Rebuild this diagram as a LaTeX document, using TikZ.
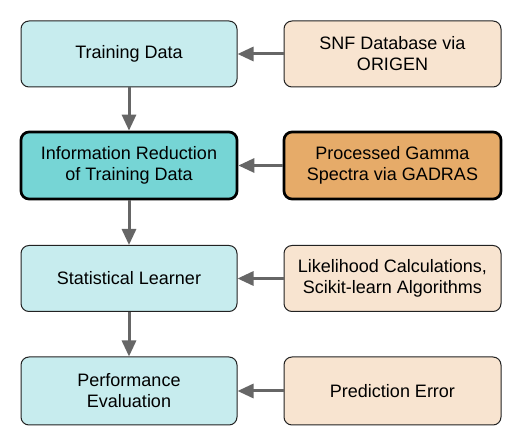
\documentclass[tikz,border=0pt]{standalone}
\usepackage{fontspec}
\setmainfont{Liberation Sans}
\usetikzlibrary{arrows.meta}
\definecolor{lcyan}{HTML}{C7ECEE}
\definecolor{dcyan}{HTML}{76D5D5}
\definecolor{lpeach}{HTML}{F8E4D0}
\definecolor{dorange}{HTML}{E6AB69}
\definecolor{arrowgray}{HTML}{666666}
\definecolor{edgegray}{HTML}{222222}
\begin{document}
\begin{tikzpicture}[x=1pt,y=-1pt,
  box/.style={draw=edgegray, line width=1pt, rounded corners=8pt, align=center,
    font=\fontsize{18pt}{21pt}\selectfont, inner sep=0pt},
  lbox/.style={box, minimum width=216pt, minimum height=66pt},
  rbox/.style={box, minimum width=217pt, minimum height=66pt},
  strong/.style={draw=black, line width=2.7pt},
  conn/.style={draw=arrowgray, line width=3pt, -{Triangle[width=14pt,length=16pt]}}]
\useasboundingbox (0,0) rectangle (512,446);
\node[lbox, fill=lcyan] (td) at (129,54) {Training Data};
\node[lbox, fill=dcyan, strong, minimum height=67pt] (ir) at (129,165.5) {Information Reduction\\of Training Data};
\node[lbox, fill=lcyan] (sl) at (129,278.5) {Statistical Learner};
\node[lbox, fill=lcyan, minimum height=68pt] (pe) at (129,391) {Performance\\Evaluation};
\node[rbox, fill=lpeach] (snf) at (392.5,54) {SNF Database via\\ORIGEN};
\node[rbox, fill=dorange, strong, minimum height=67pt] (pgs) at (392.5,165.5) {Processed Gamma\\Spectra via GADRAS};
\node[rbox, fill=lpeach] (lc) at (392.5,278.5) {Likelihood Calculations,\\Scikit-learn Algorithms};
\node[rbox, fill=lpeach, minimum height=68pt] (perr) at (392.5,391) {Prediction Error};
\draw[conn] (td) -- (ir);
\draw[conn] (ir) -- (sl);
\draw[conn] (sl) -- (pe);
\draw[conn] (snf) -- (td);
\draw[conn] (pgs) -- (ir);
\draw[conn] (lc) -- (sl);
\draw[conn] (perr) -- (pe);
\end{tikzpicture}
\end{document}
